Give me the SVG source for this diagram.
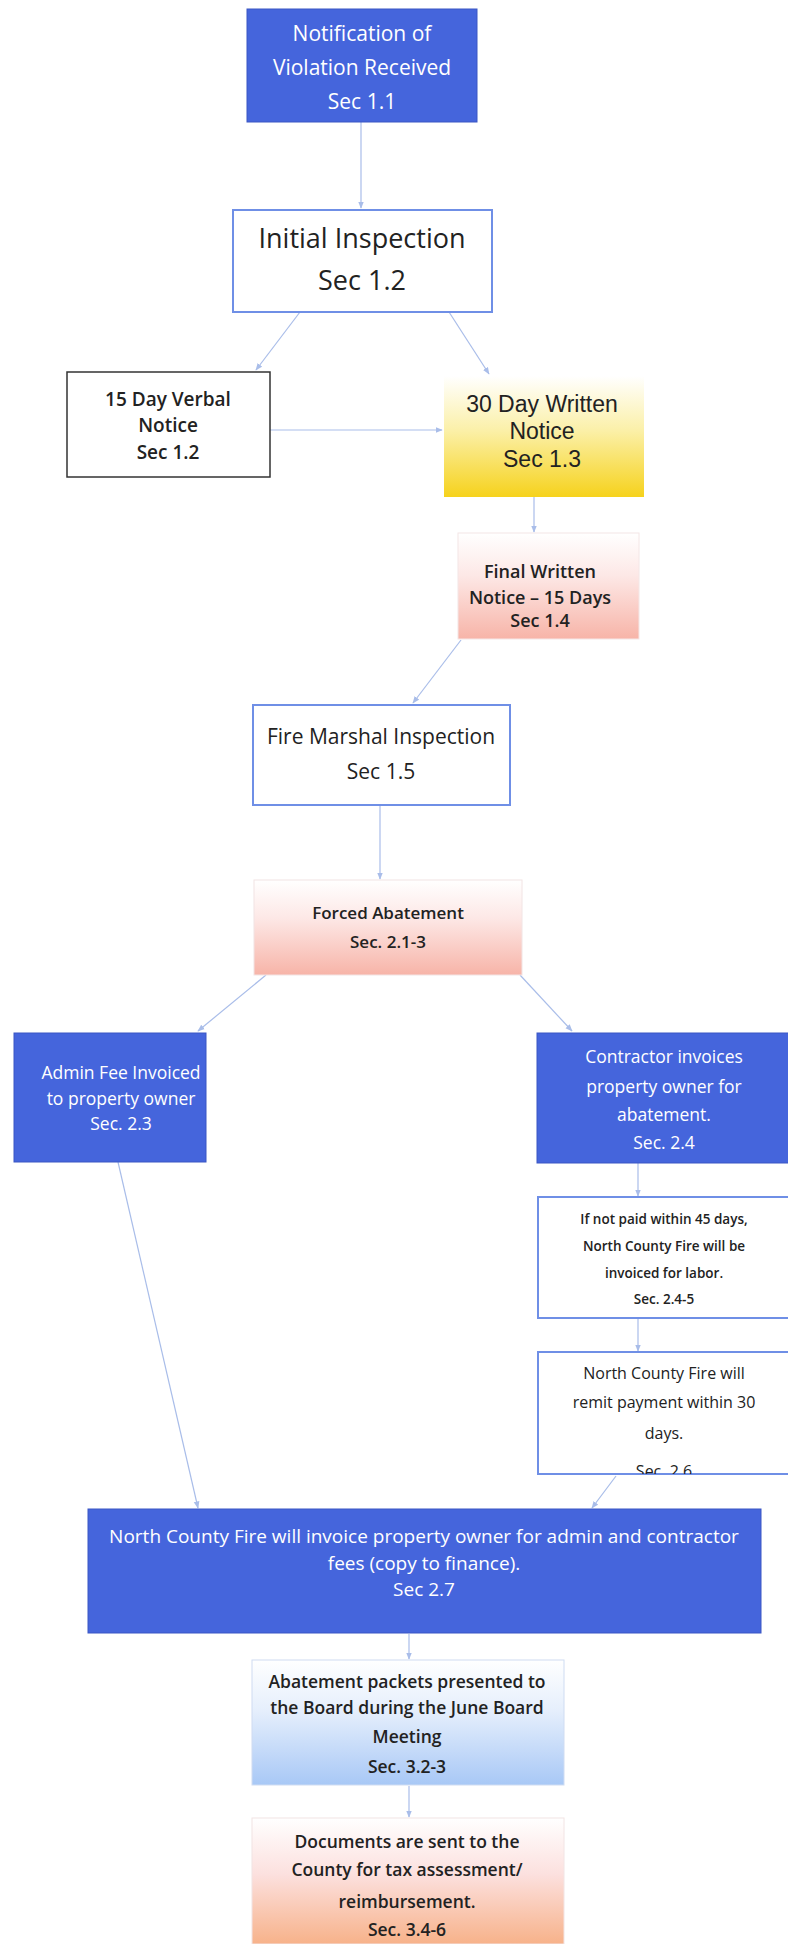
<svg xmlns="http://www.w3.org/2000/svg" width="788" height="1944" viewBox="0 0 788 1944">
<style>
.bl{fill:#4565dc;stroke:#3a56c4;stroke-width:1}
.wb{fill:#ffffff;stroke:#6f8fe6;stroke-width:2}
.dk{fill:#ffffff;stroke:#333333;stroke-width:1.5}
.t{font-family:"Open Sans","Liberation Sans",sans-serif;text-anchor:middle;fill:#222222}
.w{fill:#ffffff}
.b{font-weight:600}
.ar{font-family:"Liberation Sans",Arial,sans-serif;text-anchor:middle;fill:#222222}
.c{stroke:#a9bde9;stroke-width:1.2;fill:none;marker-end:url(#ah)}
</style>
<defs>
<marker id="ah" viewBox="0 0 10 10" refX="9" refY="5" markerWidth="6" markerHeight="6" orient="auto">
<path d="M0,1 L10,5 L0,9 z" fill="#a9bde9"/>
</marker>
<linearGradient id="gy" x1="0" y1="0" x2="0" y2="1">
<stop offset="0" stop-color="#ffffff"/><stop offset="0.45" stop-color="#fbf0a8"/><stop offset="1" stop-color="#f6d21c"/>
</linearGradient>
<linearGradient id="gp" x1="0" y1="0" x2="0" y2="1">
<stop offset="0" stop-color="#ffffff"/><stop offset="0.4" stop-color="#fde8e6"/><stop offset="1" stop-color="#f7b4a8"/>
</linearGradient>
<linearGradient id="go" x1="0" y1="0" x2="0" y2="1">
<stop offset="0" stop-color="#ffffff"/><stop offset="0.45" stop-color="#fce0de"/><stop offset="1" stop-color="#f7b28a"/>
</linearGradient>
<linearGradient id="gb" x1="0" y1="0" x2="0" y2="1">
<stop offset="0" stop-color="#ffffff"/><stop offset="0.4" stop-color="#e6effc"/><stop offset="1" stop-color="#a8c8f6"/>
</linearGradient>
<clipPath id="c11"><rect x="538" y="1352" width="250" height="122"/></clipPath>
</defs>
<rect width="788" height="1944" fill="#ffffff"/>

<g id="connectors">
<line class="c" x1="361" y1="122" x2="361" y2="208"/>
<line class="c" x1="300" y1="312" x2="256" y2="370"/>
<line class="c" x1="449" y1="312" x2="489" y2="374"/>
<line class="c" x1="270" y1="430" x2="442" y2="430"/>
<line class="c" x1="534" y1="497" x2="534" y2="532"/>
<line class="c" x1="461" y1="640" x2="413" y2="703"/>
<line class="c" x1="380" y1="806" x2="380" y2="879"/>
<line class="c" x1="266" y1="975" x2="198" y2="1031"/>
<line class="c" x1="520" y1="975" x2="572" y2="1031"/>
<line class="c" x1="638" y1="1163" x2="638" y2="1196"/>
<line class="c" x1="638" y1="1318" x2="638" y2="1351"/>
<line class="c" x1="118" y1="1162" x2="198" y2="1508"/>
<line class="c" x1="616" y1="1476" x2="592" y2="1508"/>
<line class="c" x1="409" y1="1634" x2="409" y2="1659"/>
<line class="c" x1="409" y1="1786" x2="409" y2="1817"/>
</g>

<g id="n1">
<rect class="bl" x="247" y="9" width="230" height="113"/>
<text class="t w" font-size="21" x="362" y="41">Notification of</text>
<text class="t w" font-size="21" x="362" y="75">Violation Received</text>
<text class="t w" font-size="21" x="362" y="109">Sec 1.1</text>
</g>

<g id="n2">
<rect class="wb" x="233" y="210" width="259" height="102"/>
<text class="t" font-size="27" x="362" y="248">Initial Inspection</text>
<text class="t" font-size="27" x="362" y="290">Sec 1.2</text>
</g>

<g id="n3">
<rect class="dk" x="67" y="372" width="203" height="105"/>
<text class="t b" font-size="19" x="168" y="406">15 Day Verbal</text>
<text class="t b" font-size="19" x="168" y="432">Notice</text>
<text class="t b" font-size="19" x="168" y="459">Sec 1.2</text>
</g>

<g id="n4">
<rect x="444" y="376" width="200" height="121" fill="url(#gy)"/>
<text class="ar" font-size="23" x="542" y="412">30 Day Written</text>
<text class="ar" font-size="23" x="542" y="439">Notice</text>
<text class="ar" font-size="23" x="542" y="467">Sec 1.3</text>
</g>

<g id="n5">
<rect x="458" y="533" width="181" height="106" fill="url(#gp)" stroke="#f4e6e6" stroke-width="1"/>
<text class="t b" font-size="18" x="540" y="578">Final Written</text>
<text class="t b" font-size="18" x="540" y="604">Notice – 15 Days</text>
<text class="t b" font-size="18" x="540" y="627">Sec 1.4</text>
</g>

<g id="n6">
<rect class="wb" x="253" y="705" width="257" height="100"/>
<text class="t" font-size="21" x="381" y="744">Fire Marshal Inspection</text>
<text class="t" font-size="21" x="381" y="779">Sec 1.5</text>
</g>

<g id="n7">
<rect x="254" y="880" width="268" height="95" fill="url(#gp)" stroke="#f2e4e4" stroke-width="1"/>
<text class="t b" font-size="17" x="388" y="919">Forced Abatement</text>
<text class="t b" font-size="17" x="388" y="948">Sec. 2.1-3</text>
</g>

<g id="n8">
<rect class="bl" x="14" y="1033" width="192" height="129"/>
<text class="t w" font-size="17.5" x="121" y="1079">Admin Fee Invoiced</text>
<text class="t w" font-size="17.5" x="121" y="1105">to property owner</text>
<text class="t w" font-size="17.5" x="121" y="1130">Sec. 2.3</text>
</g>

<g id="n9">
<rect class="bl" x="537" y="1033" width="260" height="130"/>
<text class="t w" font-size="17.5" x="664" y="1063">Contractor invoices</text>
<text class="t w" font-size="17.5" x="664" y="1093">property owner for</text>
<text class="t w" font-size="17.5" x="664" y="1121">abatement.</text>
<text class="t w" font-size="17.5" x="664" y="1149">Sec. 2.4</text>
</g>

<g id="n10">
<rect class="wb" x="538" y="1197" width="260" height="121"/>
<text class="t b" font-size="13.5" x="664" y="1224">If not paid within 45 days,</text>
<text class="t b" font-size="13.5" x="664" y="1251">North County Fire will be</text>
<text class="t b" font-size="13.5" x="664" y="1278">invoiced for labor.</text>
<text class="t b" font-size="13.5" x="664" y="1304">Sec. 2.4-5</text>
</g>

<g id="n11">
<rect class="wb" x="538" y="1352" width="260" height="122"/>
<g clip-path="url(#c11)">
<text class="t" font-size="16" x="664" y="1379">North County Fire will</text>
<text class="t" font-size="16" x="664" y="1408">remit payment within 30</text>
<text class="t" font-size="16" x="664" y="1439">days.</text>
<text class="t" font-size="16" x="664" y="1477">Sec. 2.6</text>
</g>
</g>

<g id="n12">
<rect class="bl" x="88" y="1509" width="673" height="124"/>
<text class="t w" font-size="19" x="424" y="1543">North County Fire will invoice property owner for admin and contractor</text>
<text class="t w" font-size="19" x="424" y="1570">fees (copy to finance).</text>
<text class="t w" font-size="19" x="424" y="1596">Sec 2.7</text>
</g>

<g id="n13">
<rect x="252" y="1660" width="312" height="125" fill="url(#gb)" stroke="#cfdcf2" stroke-width="1"/>
<text class="t b" font-size="17.5" x="407" y="1688">Abatement packets presented to</text>
<text class="t b" font-size="17.5" x="407" y="1714">the Board during the June Board</text>
<text class="t b" font-size="17.5" x="407" y="1743">Meeting</text>
<text class="t b" font-size="17.5" x="407" y="1773">Sec. 3.2-3</text>
</g>

<g id="n14">
<rect x="252" y="1818" width="312" height="126" fill="url(#go)" stroke="#f2e4e4" stroke-width="1"/>
<text class="t b" font-size="17.5" x="407" y="1848">Documents are sent to the</text>
<text class="t b" font-size="17.5" x="407" y="1876">County for tax assessment/</text>
<text class="t b" font-size="17.5" x="407" y="1908">reimbursement.</text>
<text class="t b" font-size="17.5" x="407" y="1936">Sec. 3.4-6</text>
</g>
</svg>
